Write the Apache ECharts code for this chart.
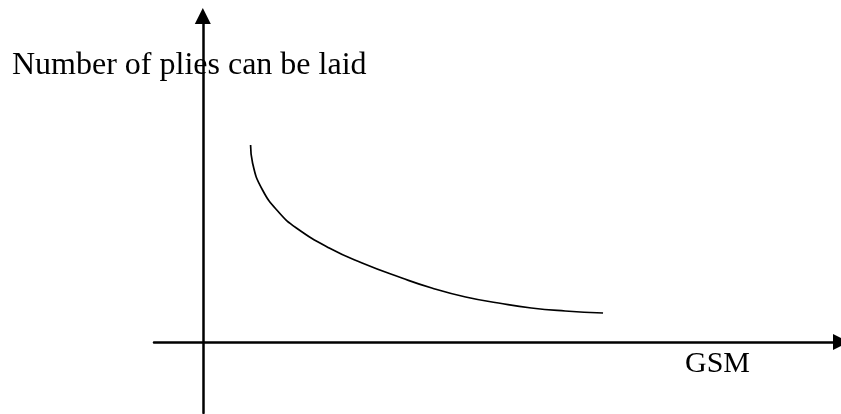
<!DOCTYPE html>
<html>
<head>
<meta charset="utf-8">
<script src="https://cdn.jsdelivr.net/npm/echarts@6/dist/echarts.min.js"></script>
<style>
  html, body { margin: 0; padding: 0; background: #fff; }
  #chart { width: 841px; height: 414px; }
</style>
</head>
<body>
<div id="chart"></div>
<script>
// sketch of plies vs GSM, no units on the axes
const gsmValues = [4.8, 5.0, 6.0, 7.7, 9.4, 12.7, 16.0, 20.0, 23.0, 26.4, 29.7, 33.0, 36.4, 40.2]
const pliesValues = [19.7, 17.9, 15.2, 12.9, 11.4, 9.4, 7.9, 6.4, 5.4, 4.5, 3.9, 3.4, 3.1, 2.9]
const yTitle = 'Number of plies can be laid'
const xTitle = 'GSM'

const chart = echarts.init(document.getElementById('chart'))

const curve = gsmValues.map((g, i) => [g, pliesValues[i]])

const axisLine = {
  onZero: true,
  symbol: ['none', 'triangle'],
  symbolSize: [16, 16],
  lineStyle: { color: '#000', width: 2.5 },
}

const options = {
  backgroundColor: '#fff',
  animation: false,
  grid: {
    left: 154,
    right: -3,
    top: 16,
    bottom: 1,
  },
  xAxis: {
    type: 'value',
    min: -4.9,
    max: 64.1,
    axisLine,
    axisTick: { show: false },
    axisLabel: { show: false },
    splitLine: { show: false },
  },
  yAxis: {
    type: 'value',
    min: -7.1,
    max: 32.6,
    axisLine,
    axisTick: { show: false },
    axisLabel: { show: false },
    splitLine: { show: false },
  },
  graphic: [
    {
      type: 'text',
      left: 12,
      top: 50,
      style: {
        text: yTitle,
        font: '32px "Liberation Serif", "Times New Roman", serif',
        fill: '#000',
      },
    },
    {
      type: 'text',
      left: 685,
      top: 349,
      style: {
        text: xTitle,
        font: '30px "Liberation Serif", "Times New Roman", serif',
        fill: '#000',
      },
    },
  ],
  series: [
    {
      type: 'line',
      data: curve,
      smooth: true,
      showSymbol: false,
      lineStyle: { color: '#000', width: 1.7 },
    },
  ],
}

chart.setOption(options, true)
</script>
</body>
</html>
